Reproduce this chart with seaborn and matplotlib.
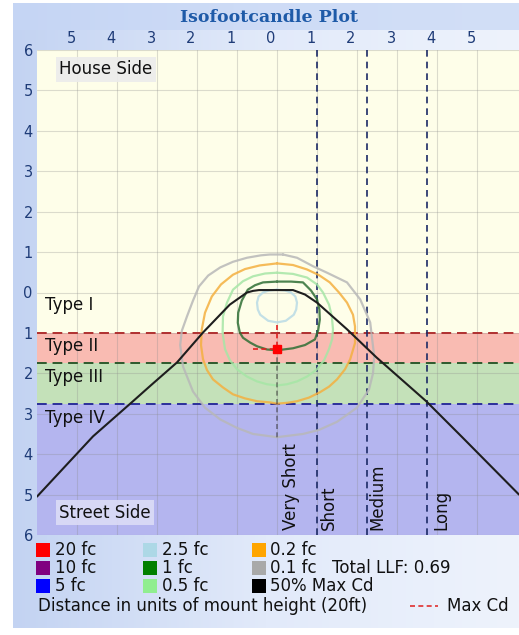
import numpy as np
import pandas as pd
import matplotlib.pyplot as plt
import seaborn as sns
from matplotlib.patches import Rectangle
from matplotlib.lines import Line2D
import matplotlib.transforms as mtransforms

# ---- data ----
x_ticks = [-5, -4, -3, -2, -1, 0, 1, 2, 3, 4, 5]
y_ticks = [-6, -5, -4, -3, -2, -1, 0, 1, 2, 3, 4, 5, 6]

# lateral type bands (street side distance, mount heights)
band_edges = [1.0, 1.75, 2.75, 6.0]
band_names = ['Type I', 'Type II', 'Type III', 'Type IV']
band_label_y = [0.3, 1.33, 2.08, 3.1]

# longitudinal throw boundaries
throw_edges = [1.0, 2.25, 3.75]
throw_names = ['Very Short', 'Short', 'Medium', 'Long']
throw_label_x = [0.35, 1.3, 2.5, 4.1]

# 50% max candela trace
cd50_x = [-6.0, -4.6, -3.6, -3.18, -2.5, -1.85, -1.18, -0.75, -0.6, -0.45, 0.4, 0.7, 1.0, 1.75, 2.48, 3.73, 4.63, 6.05]
cd50_y = [5.05, 3.56, 2.69, 2.32, 1.73, 0.99, 0.3, 0.0, -0.04, -0.06, -0.06, 0.05, 0.25, 0.91, 1.6, 2.69, 3.58, 5.0]

# isofootcandle contours (closed)
fc01_x = [0.15, 0.5, 0.9, 1.25, 1.75, 2.08, 2.33, 2.43, 2.4, 2.3, 2.0, 1.5, 1.05, 0.65, 0.0,
          -0.6, -1.0, -1.42, -1.8, -2.1, -2.35, -2.42, -2.38, -2.25, -2.1, -1.95, -1.72, -1.42, -1.1, -0.75, -0.4, -0.18]
fc01_y = [-0.94, -0.86, -0.65, -0.49, -0.25, 0.17, 0.74, 1.58, 2.0, 2.4, 2.85, 3.2, 3.4, 3.5, 3.58,
          3.5, 3.35, 3.14, 2.85, 2.45, 1.83, 1.3, 0.95, 0.59, 0.2, -0.15, -0.42, -0.62, -0.76, -0.86, -0.92, -0.94]

fc02_x = [0.0, 0.4, 0.75, 1.05, 1.32, 1.55, 1.75, 1.9, 1.95, 1.95, 1.83, 1.7, 1.5, 1.3, 1.07, 0.8, 0.5, 0.25, 0.0,
          -0.17, -0.5, -0.8, -1.1, -1.35, -1.6, -1.75, -1.85, -1.9, -1.88, -1.8, -1.63, -1.4, -1.1, -0.8, -0.43]
fc02_y = [-0.72, -0.68, -0.57, -0.43, -0.25, 0.0, 0.25, 0.55, 0.84, 1.25, 1.65, 1.9, 2.15, 2.33, 2.47, 2.6, 2.69, 2.73, 2.75,
          2.72, 2.69, 2.62, 2.52, 2.35, 2.15, 1.92, 1.65, 1.3, 0.91, 0.5, 0.1, -0.2, -0.44, -0.58, -0.67]

fc05_x = [0.0, 0.4, 0.75, 1.0, 1.15, 1.3, 1.37, 1.4, 1.38, 1.3, 1.18, 1.0, 0.75, 0.5, 0.25, 0.0,
          -0.25, -0.5, -0.75, -1.0, -1.18, -1.3, -1.36, -1.35, -1.25, -1.1, -0.85, -0.6, -0.3]
fc05_y = [-0.49, -0.46, -0.37, -0.2, 0.0, 0.3, 0.59, 0.91, 1.15, 1.4, 1.67, 1.9, 2.08, 2.2, 2.27, 2.3,
          2.27, 2.2, 2.08, 1.9, 1.67, 1.4, 1.0, 0.59, 0.25, -0.07, -0.28, -0.4, -0.47]

fc1_x = [0.0, 0.35, 0.65, 0.85, 1.0, 1.06, 1.07, 1.03, 0.95, 0.7, 0.4, 0.0,
         -0.25, -0.5, -0.67, -0.85, -0.93, -0.98, -0.97, -0.88, -0.73, -0.55, -0.35]
fc1_y = [-0.27, -0.27, -0.25, -0.05, 0.17, 0.42, 0.67, 0.93, 1.16, 1.3, 1.38, 1.43,
         1.41, 1.33, 1.24, 1.12, 0.99, 0.75, 0.5, 0.2, -0.07, -0.18, -0.25]

fc25_x = [0.0, 0.2, 0.35, 0.46, 0.5, 0.48, 0.42, 0.22, 0.0, -0.22, -0.42, -0.48, -0.5, -0.46, -0.35, -0.2]
fc25_y = [-0.07, -0.05, 0.0, 0.1, 0.25, 0.42, 0.55, 0.7, 0.74, 0.7, 0.55, 0.42, 0.25, 0.1, 0.0, -0.05]

max_cd_x = 0.0
max_cd_y = 1.4

legend_labels = ['20 fc', '10 fc', '5 fc', '2.5 fc', '1 fc', '0.5 fc', '0.2 fc', '0.1 fc', '50% Max Cd']
legend_colors = ['#ff0000', '#800080', '#0000ff', '#add8e6', '#008000', '#90ee90', '#ffa500', '#a9a9a9', '#000000']
total_llf = 0.69
mount_height_ft = 20

# ---- figure ----
sns.set_theme(style='white')
plt.rcParams['font.family'] = ['DejaVu Sans']

W, H = 519, 635
fig = plt.figure(figsize=(W / 100, H / 100), dpi=100, facecolor='white')

def fx(px):
    return px / W

def fy(py):
    return 1 - py / H

# blue frame panel with a soft gradient
bg = fig.add_axes([fx(13), fy(628), fx(519 - 13), (628 - 3) / H], zorder=-5)
grad = np.linspace(0, 1, 256)[None, :]
bg.imshow(grad, aspect='auto', cmap=sns.blend_palette(['#c3d3f2', '#e2eafa', '#eef3fc'], as_cmap=True),
          extent=[0, 1, 0, 1])
bg.add_patch(Rectangle((0, (628 - 30) / 625), 1, 27 / 625, color='#c6d6f5', alpha=0.7, lw=0))
bg.set_axis_off()

fig.text(fx(269), fy(17), 'Isofootcandle Plot', ha='center', va='center', fontsize=12.5,
         fontweight='bold', family='DejaVu Serif', color='#1e5aa8')

ax = fig.add_axes([fx(37), fy(535), fx(519 - 37), 485 / H])
ax.set_xlim(-6, 6.05)
ax.set_ylim(6, -6)

# background bands
ax.axhspan(-6, band_edges[0], color='#fefee9', lw=0, zorder=0)
band_colors = ['#f9bbb2', '#c4e1b9', '#b4b5ef']
for lo, hi, c in zip(band_edges[:-1], band_edges[1:], band_colors):
    ax.axhspan(lo, hi, color=c, lw=0, zorder=0)

ax.set_xticks(x_ticks)
ax.set_yticks(y_ticks)
ax.set_xticklabels([str(abs(v)) for v in x_ticks])
ax.set_yticklabels([str(abs(v)) for v in y_ticks])
ax.xaxis.tick_top()
ax.tick_params(length=0, labelsize=10.5, labelcolor='#1f3c78', pad=3)
offset = mtransforms.ScaledTranslation(-0.06, 0, fig.dpi_scale_trans)
for lab in ax.get_xticklabels():
    lab.set_transform(lab.get_transform() + offset)
ax.grid(True, color='#8c8c8c', alpha=0.3, lw=0.8, zorder=0.5)
ax.set_axisbelow('line')
for s in ax.spines.values():
    s.set_visible(False)

# band boundary lines
for yv, c in zip(band_edges[:-1], ['#b03030', '#2d5a2d', '#2b2f9a']):
    ax.axhline(yv, color=c, lw=1.4, ls=(0, (5, 3)), zorder=3)

# throw boundary lines
for xv in throw_edges:
    ax.axvline(xv, color='#1c2a66', lw=1.2, ls=(0, (4, 3)), zorder=3)

# contours
contours = [(fc01_x, fc01_y, '#b8b8b8'), (fc02_x, fc02_y, '#f4b040'),
            (fc05_x, fc05_y, '#a6e6a6'), (fc25_x, fc25_y, '#b9dbe6'),
            (fc1_x, fc1_y, '#2f6f35')]
for cx, cy, c in contours:
    df = pd.DataFrame({'x': cx + cx[:1], 'y': cy + cy[:1]})
    sns.lineplot(data=df, x='x', y='y', sort=False, estimator=None, ax=ax,
                 color=c, lw=1.6, alpha=0.85, zorder=4)

# max cd marker
ax.plot([-0.6, max_cd_x], [max_cd_y, max_cd_y], color='#e02020', lw=1.2, ls=(0, (3, 2)), zorder=5)
ax.plot([max_cd_x, max_cd_x], [0.8, max_cd_y], color='#e02020', lw=1.2, ls=(0, (3, 2)), zorder=5)
ax.plot([max_cd_x, max_cd_x], [max_cd_y, 3.6], color='#202020', lw=1.2, alpha=0.5, ls=(0, (3, 2)), zorder=5)
ax.plot([max_cd_x], [max_cd_y], marker='s', ms=6, color='#ff0000', zorder=6)

# 50% max cd line
sns.lineplot(x=cd50_x, y=cd50_y, sort=False, estimator=None, ax=ax, color='#1e1e1e', lw=1.5, zorder=6)
ax.set_xlabel('')
ax.set_ylabel('')

# labels
fs = 12
for name, yv in zip(band_names, band_label_y):
    ax.text(-5.8, yv, name, ha='left', va='center', fontsize=fs, color='#111111', zorder=7)
for name, xv in zip(throw_names, throw_label_x):
    ax.text(xv, 5.88, name, ha='center', va='bottom', rotation=90, fontsize=fs, color='#111111', zorder=7)
ax.text(-5.45, -5.52, 'House Side', ha='left', va='center', fontsize=fs, color='#111111', zorder=7,
        bbox=dict(boxstyle='square,pad=0.2', fc='#ececec', ec='none', alpha=0.9))
ax.text(-5.45, 5.45, 'Street Side', ha='left', va='center', fontsize=fs, color='#111111', zorder=7,
        bbox=dict(boxstyle='square,pad=0.2', fc='#dcdcf6', ec='none', alpha=0.9))

# legend block
col_sq = [36, 143, 252]
col_tx = [55, 162, 270]
row_y = [550, 568, 586]
for i, (lab, c) in enumerate(zip(legend_labels, legend_colors)):
    col, row = divmod(i, 3)
    x0, y0 = col_sq[col], row_y[row]
    fig.add_artist(Rectangle((fx(x0), fy(y0 + 6.5)), 14 / W, 14 / H, color=c, lw=0,
                             transform=fig.transFigure))
    fig.text(fx(col_tx[col]), fy(y0), lab, ha='left', va='center', fontsize=fs, color='#111111')
fig.text(fx(332), fy(568), f'Total LLF: {total_llf:.2f}', ha='left', va='center', fontsize=fs, color='#111111')
fig.text(fx(38), fy(606), f'Distance in units of mount height ({mount_height_ft}ft)', ha='left', va='center',
         fontsize=fs, color='#111111')
fig.add_artist(Line2D([fx(410), fx(438)], [fy(606), fy(606)], color='#e03030', lw=1.2, ls=(0, (3, 2)),
                      transform=fig.transFigure))
fig.text(fx(447), fy(606), 'Max Cd', ha='left', va='center', fontsize=fs, color='#111111')

fig.savefig('out.png', dpi=100, facecolor=fig.get_facecolor())
